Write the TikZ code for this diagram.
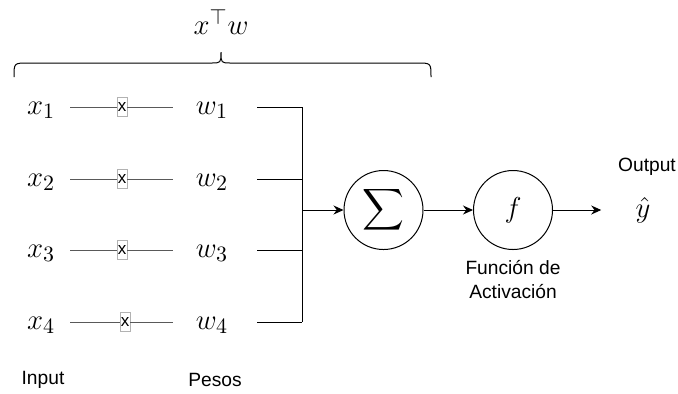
\documentclass[tikz,border=0pt]{standalone}
\usepackage{fontspec}
\usepackage{tikz}
\usetikzlibrary{arrows.meta,positioning,decorations.pathreplacing}
\newfontfamily\labelfont{Liberation Sans}

\tikzset{
  lbl/.style={font=\labelfont\fontsize{9.6}{12}\selectfont},
  var/.style={font=\fontsize{15}{18}\selectfont,inner sep=1pt},
  mult/.style={draw=black!30,line width=0.4pt,fill=white,inner sep=0.4pt,minimum width=5pt,minimum height=9.5pt,font=\labelfont\fontsize{8.5}{9}\selectfont},
  wire/.style={draw=black!65,line width=0.5pt},
  bus/.style={draw=black,line width=0.5pt},
  unit/.style={circle,draw,line width=0.5pt,minimum size=39.5pt,inner sep=0pt},
  flow/.style={draw,line width=0.5pt,-{Stealth[length=5pt,width=4.5pt]}},
}

\begin{document}
\begin{tikzpicture}[x=0.5pt,y=-0.5pt]
  \useasboundingbox (0,0) rectangle (678,393);

  % dot product over the inputs and weights
  \coordinate (bl) at (14,77);
  \coordinate (tip) at (221,52);
  \coordinate (br) at (431,77);
  \draw[bus] (bl) .. controls (14,63) .. (28,63) -- (211,63)
    .. controls (221,63) .. (tip) .. controls (221,63) .. (231,63)
    -- (417,63) .. controls (431,63) .. (br);
  \node[var] (dot) at (221,22) {$x^\top w$};

  % inputs, products and weights
  \foreach \i/\y/\mx in {1/107/122,2/179/122,3/250/122,4/322/125} {
    \node[var] (x\i) at (41,\y+3) {$x_\i$};
    \node[mult] (m\i) at (\mx,\y) {x};
    \node[var] (w\i) at (212,\y+3) {$w_\i$};
    \draw[wire] ([xshift=6.5pt]x\i.east |- m\i) -- (m\i) -- ([xshift=-10.5pt]w\i.west |- m\i);
  }

  % neuron
  \coordinate (join) at (302,210);
  \node[unit] (sum) at (383.5,210) {\scalebox{1.45}{$\displaystyle\sum$}};
  \node[unit,font=\fontsize{15}{18}\selectfont] (act) at (513,210) {$f$};
  \node[var] (yhat) at (643,210) {$\hat{y}$};

  \foreach \i in {1,...,4}
    \draw[bus] ([xshift=13.5pt]w\i.east |- m\i) -- (join |- m\i);
  \draw[bus] (join |- m1) -- (join |- m4);
  \draw[flow] (join) -- (sum);
  \draw[flow] (sum) -- (act);
  \draw[flow] (act) -- ([xshift=-16pt]yhat.west);

  % labels
  \node[lbl] (out) at (647,167) {Output};
  \node[lbl,align=center] (actlbl) at (513,280) {Función de\\Activación};
  \node[lbl] (inlbl) at (43,380) {Input};
  \node[lbl] (wlbl) at (215,380) {Pesos};
\end{tikzpicture}
\end{document}
